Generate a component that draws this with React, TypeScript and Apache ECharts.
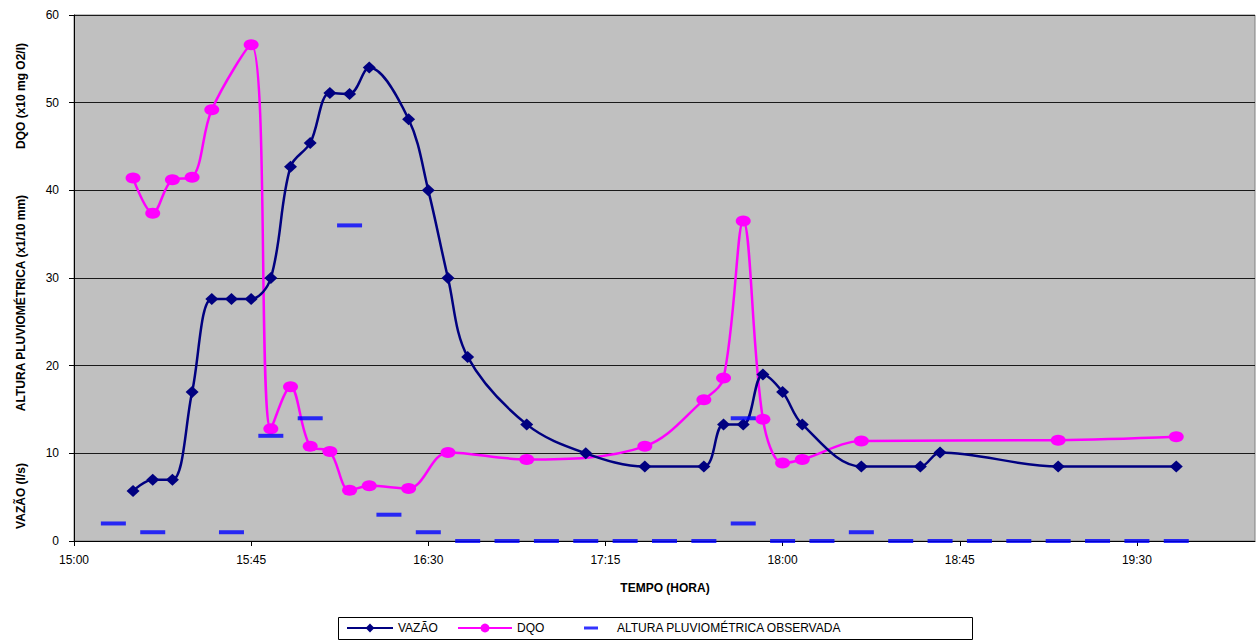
import React, { useEffect, useRef } from "react";
import * as echarts from "echarts";

const tickLabels = ["15:00", "15:45", "16:30", "17:15", "18:00", "18:45", "19:30"];

const vazaoTimes = ["15:15", "15:20", "15:25", "15:30", "15:35", "15:40", "15:45", "15:50", "15:55", "16:00", "16:05", "16:10", "16:15", "16:25", "16:30", "16:35", "16:40", "16:55", "17:10", "17:25", "17:40", "17:45", "17:50", "17:55", "18:00", "18:05", "18:20", "18:35", "18:40", "19:10", "19:40"];
const vazaoValues = [5.7, 7.0, 7.0, 17.0, 27.6, 27.6, 27.6, 30.0, 42.7, 45.4, 51.1, 51.0, 54.0, 48.1, 40.0, 30.0, 21.0, 13.3, 10.0, 8.5, 8.5, 13.3, 13.3, 19.0, 17.0, 13.3, 8.5, 8.5, 10.1, 8.5, 8.5];

const dqoTimes = ["15:15", "15:20", "15:25", "15:30", "15:35", "15:45", "15:50", "15:55", "16:00", "16:05", "16:10", "16:15", "16:25", "16:35", "16:55", "17:25", "17:40", "17:45", "17:50", "17:55", "18:00", "18:05", "18:20", "19:10", "19:40"];
const dqoValues = [41.4, 37.4, 41.2, 41.5, 49.2, 56.6, 12.8, 17.6, 10.8, 10.2, 5.8, 6.3, 6.0, 10.1, 9.3, 10.8, 16.1, 18.6, 36.5, 13.9, 8.9, 9.3, 11.4, 11.5, 11.9];

const alturaTimes = ["15:10", "15:20", "15:40", "15:50", "16:00", "16:10", "16:20", "16:30", "16:40", "16:50", "17:00", "17:10", "17:20", "17:30", "17:40", "17:50", "17:50", "18:00", "18:10", "18:20", "18:30", "18:40", "18:50", "19:00", "19:10", "19:20", "19:30", "19:40"];
const alturaValues = [2, 1, 1, 12, 14, 36, 3, 1, 0, 0, 0, 0, 0, 0, 0, 14, 2, 0, 0, 1, 0, 0, 0, 0, 0, 0, 0, 0];

const seriesNames = ["VAZÃO", "DQO", "ALTURA PLUVIOMÉTRICA OBSERVADA"];

const START_HOUR = 15;
const toMin = (s: string) => {
  const [h, m] = s.split(":").map(Number);
  return (h - START_HOUR) * 60 + m;
};
const fmt = (v: number) => {
  const h = START_HOUR + Math.floor(v / 60);
  const m = Math.round(v % 60);
  return `${h}:${m < 10 ? "0" + m : m}`;
};
const pairs = (t: string[], v: number[]) => t.map((s, i) => [toMin(s), v[i]]);

const FONT = 'Arial, "Liberation Sans", sans-serif';

export default function App() {
  const ref = useRef<HTMLDivElement>(null);
  useEffect(() => {
    document.body.style.margin = "0";
    if (!ref.current) return;
    const chart = echarts.init(ref.current, undefined, { renderer: "svg" });
    const tickVals = tickLabels.map(toMin);
    chart.setOption({
      animation: false,
      backgroundColor: "#ffffff",
      textStyle: { fontFamily: FONT },
      grid: {
        left: 74,
        right: 2,
        top: 15,
        bottom: 100,
        show: true,
        backgroundColor: "#C0C0C0",
        borderColor: "#808080",
        borderWidth: 1,
        outerBoundsMode: "none",
      },
      xAxis: {
        type: "value",
        min: 0,
        max: 300,
        interval: 45,
        axisLine: { show: true, onZero: false, lineStyle: { color: "#000", width: 1 } },
        axisTick: { show: true, length: 5, lineStyle: { color: "#000" }, customValues: tickVals },
        axisLabel: {
          color: "#000",
          fontSize: 12,
          fontFamily: FONT,
          margin: 13,
          customValues: tickVals,
          formatter: (v: number) => fmt(v),
        },
        splitLine: { show: false },
      },
      yAxis: {
        type: "value",
        min: 0,
        max: 60,
        interval: 10,
        axisLine: { show: true, lineStyle: { color: "#000", width: 1 } },
        axisTick: { show: true, length: 5, lineStyle: { color: "#000" } },
        axisLabel: { color: "#000", fontSize: 12, fontFamily: FONT, margin: 15 },
        splitLine: { show: true, lineStyle: { color: "#1a1a1a", width: 1 } },
      },
      legend: [
        {
          data: [seriesNames[0]],
          left: 346,
          top: 622,
          itemWidth: 46,
          itemHeight: 11,
          itemGap: 0,
          padding: 0,
          textStyle: { color: "#000", fontSize: 12, fontFamily: FONT },
        },
        {
          data: [seriesNames[1]],
          left: 457,
          top: 622,
          itemWidth: 54,
          itemHeight: 11,
          itemGap: 0,
          padding: 0,
          textStyle: { color: "#000", fontSize: 12, fontFamily: FONT },
        },
        {
          data: [seriesNames[2]],
          left: 584,
          top: 622,
          itemWidth: 14,
          itemHeight: 3,
          itemGap: 0,
          padding: 0,
          textStyle: { color: "#000", fontSize: 12, fontFamily: FONT, padding: [0, 0, 0, 14] },
        },
      ],
      graphic: [
        {
          type: "rect",
          shape: { x: 338.5, y: 617.5, width: 634, height: 22 },
          style: { fill: "#fff", stroke: "#000", lineWidth: 1 },
          z: -1,
        },
        {
          type: "text",
          x: 665,
          y: 588,
          style: {
            text: "TEMPO (HORA)",
            font: `bold 12px ${FONT}`,
            fill: "#000",
            align: "center",
            verticalAlign: "middle",
          },
        },
        {
          type: "text",
          x: 21,
          y: 496,
          rotation: Math.PI / 2,
          style: { text: "VAZÃO (l/s)", font: `bold 12px ${FONT}`, fill: "#000", align: "center", verticalAlign: "middle" },
        },
        {
          type: "text",
          x: 21,
          y: 303,
          rotation: Math.PI / 2,
          style: {
            text: "ALTURA PLUVIOMÉTRICA (x1/10 mm)",
            font: `bold 12px ${FONT}`,
            fill: "#000",
            align: "center",
            verticalAlign: "middle",
          },
        },
        {
          type: "text",
          x: 21,
          y: 96,
          rotation: Math.PI / 2,
          style: { text: "DQO (x10 mg O2/l)", font: `bold 12px ${FONT}`, fill: "#000", align: "center", verticalAlign: "middle" },
        },
      ],
      series: [
        {
          name: seriesNames[1],
          type: "line",
          data: pairs(dqoTimes, dqoValues),
          smooth: 0.35,
          symbol: "circle",
          symbolSize: [15, 11],
          itemStyle: { color: "#FF00FF" },
          lineStyle: { color: "#FF00FF", width: 2.5 },
          z: 3,
        },
        {
          name: seriesNames[0],
          type: "line",
          data: pairs(vazaoTimes, vazaoValues),
          smooth: 0.35,
          symbol: "diamond",
          symbolSize: [13, 12],
          itemStyle: { color: "#000080" },
          lineStyle: { color: "#000080", width: 2.5 },
          z: 4,
        },
        {
          name: seriesNames[2],
          type: "scatter",
          data: pairs(alturaTimes, alturaValues),
          symbol: "rect",
          symbolSize: [25, 4],
          itemStyle: { color: "#0000FF" },
          clip: false,
          z: 5,
        },
      ],
    });
    return () => chart.dispose();
  }, []);
  return <div ref={ref} style={{ width: 1257, height: 641 }} />;
}
